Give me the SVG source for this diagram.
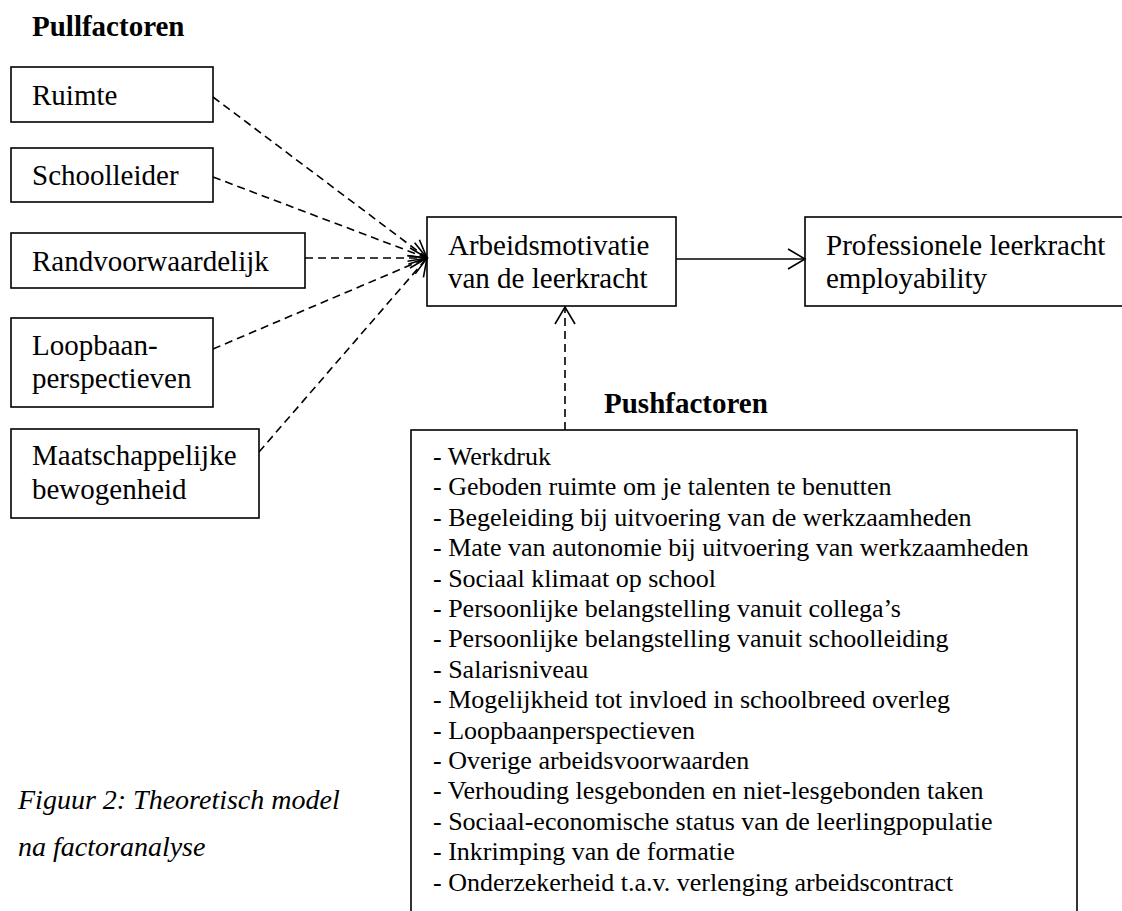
<svg xmlns="http://www.w3.org/2000/svg" width="1122" height="911" viewBox="0 0 1122 911">
<style>
text{font-family:"Liberation Serif","Times New Roman",serif;fill:#000}
.lbl{font-size:29px}
.ttl{font-size:29px;font-weight:bold}
.lst{font-size:26px}
.cap{font-size:28px;font-style:italic}
.box{fill:#fff;stroke:#000;stroke-width:1.6}
.dash{fill:none;stroke:#000;stroke-width:1.6;stroke-dasharray:8 5}
.solid{fill:none;stroke:#000;stroke-width:1.6}
</style>
<defs>
<marker id="ah" markerUnits="userSpaceOnUse" markerWidth="20" markerHeight="22" refX="17" refY="10" orient="auto" overflow="visible">
<path d="M0,0 L17,10 L0,20" fill="none" stroke="#000" stroke-width="1.6" stroke-dasharray="none"/>
</marker>
</defs>
<rect width="1122" height="911" fill="#fff"/>
<text class="ttl" x="32" y="36">Pullfactoren</text>
<g id="ruimte"><rect class="box" x="11" y="67" width="202" height="55"/><text class="lbl" x="32" y="105">Ruimte</text></g>
<g id="schoolleider"><rect class="box" x="11" y="148" width="202" height="54"/><text class="lbl" x="32" y="185">Schoolleider</text></g>
<g id="randvoorwaardelijk"><rect class="box" x="11" y="233" width="294" height="55"/><text class="lbl" x="32" y="271">Randvoorwaardelijk</text></g>
<g id="loopbaan"><rect class="box" x="11" y="318" width="202" height="89"/><text class="lbl" x="32" y="355">Loopbaan-</text><text class="lbl" x="32" y="388">perspectieven</text></g>
<g id="maatschappelijke"><rect class="box" x="11" y="429" width="248" height="89"/><text class="lbl" x="32" y="465">Maatschappelijke</text><text class="lbl" x="32" y="499">bewogenheid</text></g>
<g id="arbeidsmotivatie"><rect class="box" x="427" y="217" width="249" height="89"/><text class="lbl" x="448" y="255">Arbeidsmotivatie</text><text class="lbl" x="448" y="288">van de leerkracht</text></g>
<g id="professionele"><rect class="box" x="805" y="217" width="320" height="89"/><text class="lbl" x="826" y="255">Professionele leerkracht</text><text class="lbl" x="826" y="288">employability</text></g>
<g id="pushfactoren">
<text class="ttl" x="604" y="413">Pushfactoren</text>
<rect class="box" x="411" y="430" width="666" height="520"/>
<text class="lst" x="433" y="465">- Werkdruk</text>
<text class="lst" x="433" y="495.4">- Geboden ruimte om je talenten te benutten</text>
<text class="lst" x="433" y="525.8">- Begeleiding bij uitvoering van de werkzaamheden</text>
<text class="lst" x="433" y="556.2">- Mate van autonomie bij uitvoering van werkzaamheden</text>
<text class="lst" x="433" y="586.6">- Sociaal klimaat op school</text>
<text class="lst" x="433" y="617">- Persoonlijke belangstelling vanuit collega’s</text>
<text class="lst" x="433" y="647.4">- Persoonlijke belangstelling vanuit schoolleiding</text>
<text class="lst" x="433" y="677.8">- Salarisniveau</text>
<text class="lst" x="433" y="708.2">- Mogelijkheid tot invloed in schoolbreed overleg</text>
<text class="lst" x="433" y="738.6">- Loopbaanperspectieven</text>
<text class="lst" x="433" y="769">- Overige arbeidsvoorwaarden</text>
<text class="lst" x="433" y="799.4">- Verhouding lesgebonden en niet-lesgebonden taken</text>
<text class="lst" x="433" y="829.8">- Sociaal-economische status van de leerlingpopulatie</text>
<text class="lst" x="433" y="860.2">- Inkrimping van de formatie</text>
<text class="lst" x="433" y="890.6">- Onderzekerheid t.a.v. verlenging arbeidscontract</text>
</g>
<g id="caption">
<text class="cap" x="18" y="809">Figuur 2: Theoretisch model</text>
<text class="cap" x="18" y="856">na factoranalyse</text>
</g>
<g id="connectors">
<line class="dash" x1="213" y1="97" x2="427" y2="258" marker-end="url(#ah)"/>
<line class="dash" x1="213" y1="177" x2="427" y2="258" marker-end="url(#ah)"/>
<line class="dash" x1="305" y1="258" x2="427" y2="258" marker-end="url(#ah)"/>
<line class="dash" x1="213" y1="349" x2="427" y2="258" marker-end="url(#ah)"/>
<line class="dash" x1="259" y1="452" x2="427" y2="258" marker-end="url(#ah)"/>
<line class="solid" x1="676" y1="259" x2="805" y2="259" marker-end="url(#ah)"/>
<line class="dash" x1="565" y1="430" x2="565" y2="307" marker-end="url(#ah)"/>
</g>
</svg>
